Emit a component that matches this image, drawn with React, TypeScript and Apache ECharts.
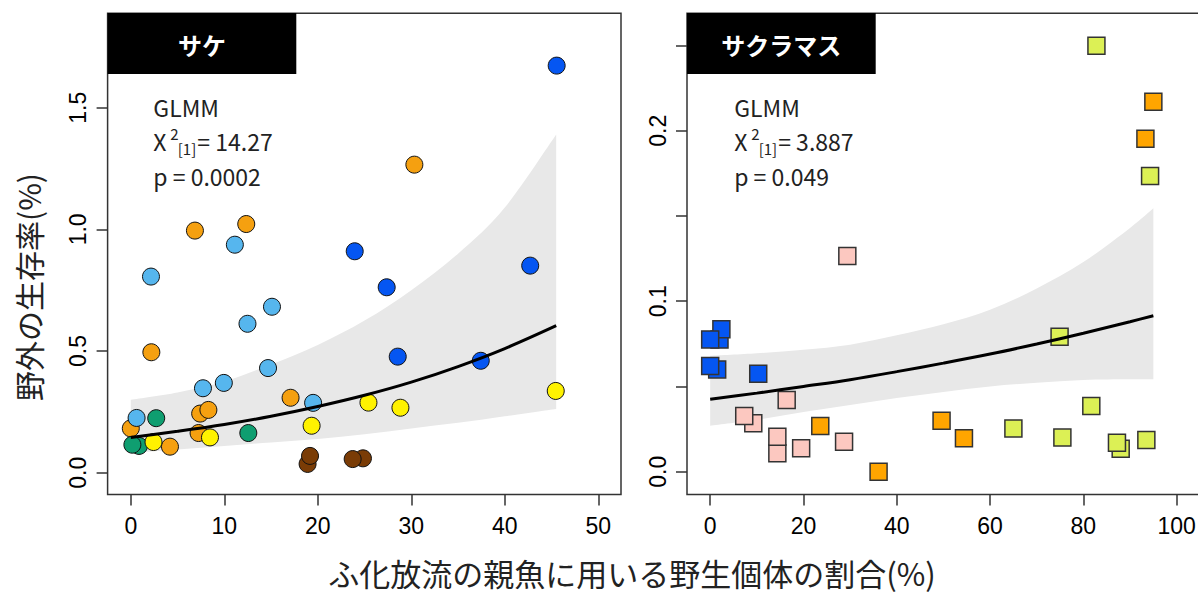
import React, { useEffect, useRef } from "react";
import * as echarts from "echarts";

// ---------- data ----------
// サケ (chum salmon) panel: [x = wild parent %, y = survival %]
const chumBrown = [[24.83, 0.059], [23.73, 0.056], [18.91, 0.036], [19.17, 0.069]];
const chumOrange = [[30.33, 1.266], [6.86, 0.995], [12.35, 1.022], [2.2, 0.495], [17.09, 0.308], [7.42, 0.243], [8.3, 0.258], [0.0, 0.182], [7.25, 0.163], [4.19, 0.107]];
const chumGreen = [[2.72, 0.224], [12.57, 0.163], [0.88, 0.11], [0.17, 0.115]];
const chumSky = [[11.13, 0.937], [2.16, 0.806], [15.1, 0.682], [12.48, 0.612], [14.68, 0.43], [9.95, 0.369], [7.72, 0.347], [19.5, 0.287], [0.62, 0.225]];
const chumYellow = [[45.45, 0.336], [25.42, 0.288], [28.84, 0.267], [19.34, 0.193], [8.47, 0.145], [2.43, 0.126]];
const chumBlue = [[45.55, 1.673], [23.95, 0.91], [27.37, 0.762], [42.72, 0.851], [28.55, 0.477], [37.43, 0.46]];

const chumFitX = [0, 5, 10, 15, 20, 25, 30, 35, 40, 45.5];
const chumFit = [0.145, 0.17, 0.198, 0.232, 0.272, 0.318, 0.372, 0.436, 0.51, 0.604];
const chumUpper = [0.3, 0.33, 0.375, 0.445, 0.525, 0.625, 0.75, 0.9, 1.09, 1.39];
const chumLower = [0.08, 0.095, 0.11, 0.124, 0.138, 0.158, 0.182, 0.205, 0.232, 0.262];

// サクラマス (masu salmon) panel
const masuPink = [[29.4, 0.1265], [16.4, 0.042], [9.24, 0.0284], [7.3, 0.0327], [14.4, 0.0108], [14.4, 0.0205], [19.5, 0.0137], [28.7, 0.0176]];
const masuOrange = [[95.0, 0.217], [93.3, 0.1953], [23.6, 0.0268], [36.1, 0.0], [49.6, 0.0299], [54.4, 0.0196]];
const masuLime = [[82.8, 0.2499], [94.3, 0.1734], [74.9, 0.0792], [65.0, 0.0254], [81.7, 0.0385], [75.5, 0.02], [88.0, 0.0135], [87.2, 0.017], [93.5, 0.0186]];
const masuBlue = [[2.0, 0.0775], [2.4, 0.0835], [0.0, 0.0776], [1.5, 0.06], [0.0, 0.062], [10.3, 0.0574]];

const masuFitX = [0, 10, 20, 30, 40, 50, 60, 70, 80, 90, 95];
const masuFit = [0.0425, 0.0461, 0.05, 0.054, 0.0587, 0.0637, 0.069, 0.0749, 0.0812, 0.088, 0.0915];
const masuUpper = [0.068, 0.0695, 0.0715, 0.0745, 0.08, 0.0865, 0.095, 0.1075, 0.123, 0.143, 0.1545];
const masuLower = [0.027, 0.0305, 0.035, 0.0391, 0.0432, 0.0468, 0.05, 0.0522, 0.0538, 0.0542, 0.0542];

// ticks / labels
const chumXTicks = [0, 10, 20, 30, 40, 50];
const chumYTicks = [0, 0.5, 1.0, 1.5];
const masuXTicks = [0, 20, 40, 60, 80, 100];
const masuYTicks = [0, 0.05, 0.1, 0.15, 0.2, 0.25];
const masuYLabels = [0, 0.1, 0.2];

const panelTitles = ["サケ", "サクラマス"];
const chiValues = ["14.27", "3.887"];
const pValues = ["0.0002", "0.049"];
const xTitle = "ふ化放流の親魚に用いる野生個体の割合(%)";
const yTitle = "野外の生存率(%)";

// ---------- styling ----------
const CJK = '"Noto Sans CJK JP", "Noto Sans", sans-serif';
const SANS = '"Liberation Sans", Arial, sans-serif';
const BAND = "#e8e8e8";

const zip = (xs: number[], ys: number[]) => xs.map((x, i) => [x, ys[i]]);

// Catmull-Rom -> cubic Bezier segments through screen points (drawing only)
function curveThrough(pts: number[][], start: "M" | "L") {
  let d = `${start}${pts[0][0]},${pts[0][1]}`;
  for (let i = 0; i < pts.length - 1; i++) {
    const p0 = pts[i - 1] || pts[i];
    const p1 = pts[i];
    const p2 = pts[i + 1];
    const p3 = pts[i + 2] || pts[i + 1];
    const c1x = p1[0] + (p2[0] - p0[0]) / 6;
    const c1y = p1[1] + (p2[1] - p0[1]) / 6;
    const c2x = p2[0] - (p3[0] - p1[0]) / 6;
    const c2y = p2[1] - (p3[1] - p1[1]) / 6;
    d += `C${c1x},${c1y},${c2x},${c2y},${p2[0]},${p2[1]}`;
  }
  return d;
}

function bandSeries(idx: number, xs: number[], lo: number[], hi: number[], fit: number[]) {
  return [
    {
      type: "custom", xAxisIndex: idx, yAxisIndex: idx, silent: true, z: 1, clip: true,
      data: [[xs[0], lo[0]]],
      renderItem: (_p: any, api: any) => {
        const up = xs.map((x, i) => api.coord([x, hi[i]]));
        const dn = xs.map((x, i) => api.coord([x, lo[i]])).reverse();
        const d = curveThrough(up, "M") + curveThrough(dn, "L") + "Z";
        return { type: "path", shape: { pathData: d }, style: { fill: BAND, stroke: null } };
      },
    },
    {
      type: "line", xAxisIndex: idx, yAxisIndex: idx, smooth: 0.35, symbol: "none",
      lineStyle: { width: 3, color: "#000" }, silent: true, z: 4,
      data: zip(xs, fit),
    },
  ];
}

function scatter(idx: number, data: number[][], color: string, symbol: string) {
  return {
    type: "scatter", xAxisIndex: idx, yAxisIndex: idx, symbol, symbolSize: 17,
    itemStyle: { color, borderColor: symbol === "circle" ? "#111" : "#333", borderWidth: symbol === "circle" ? 1 : 1.5, opacity: 1 },
    z: 3, data,
  };
}

function annotation(x0: number, chi: string, p: string) {
  const font = `23px ${CJK}`;
  const small = `15px ${CJK}`;
  const base = { fill: "#222", verticalAlign: "middle", textVerticalAlign: "middle", align: "left", textAlign: "left" };
  return [
    { type: "text", x: x0, y: 107, z: 10, style: { ...base, text: "GLMM", font } },
    { type: "text", x: x0, y: 141, z: 10, style: { ...base, text: "Χ", font } },
    { type: "text", x: x0 + 17, y: 133, z: 10, style: { ...base, text: "2", font: small } },
    { type: "text", x: x0 + 24.5, y: 148, z: 10, style: { ...base, text: "[1]", font: small } },
    { type: "text", x: x0 + 44, y: 141, z: 10, style: { ...base, text: "= " + chi, font } },
    { type: "text", x: x0, y: 176, z: 10, style: { ...base, text: "p = " + p, font } },
  ];
}

function header(x: number, w: number, text: string) {
  return [
    { type: "rect", z: 10, shape: { x, y: 13, width: w, height: 61 }, style: { fill: "#000" } },
    {
      type: "text", z: 11, x: x + w / 2, y: 44,
      style: { text, font: `bold 24px ${CJK}`, fill: "#fff", align: "center", textAlign: "center", verticalAlign: "middle", textVerticalAlign: "middle" },
    },
  ];
}

const tickStyle = { show: true, inside: false, length: 11, lineStyle: { color: "#333", width: 1.5 } };

function axisCommon() {
  return {
    type: "value",
    splitLine: { show: false },
    axisLine: { show: false, onZero: false },
  };
}

export default function App() {
  const ref = useRef<HTMLDivElement>(null);

  useEffect(() => {
    if (!ref.current) return;
    const chart = echarts.init(ref.current, undefined, { renderer: "svg" });
    const gridTop = 13.3;
    const gridH = 481.2;

    const option: any = {
      animation: false,
      backgroundColor: "#fff",
      grid: [
        { left: 107.6, top: gridTop, width: 513.4, height: gridH, show: true, borderColor: "#333", borderWidth: 1.5, backgroundColor: "transparent", outerBoundsMode: "none", containLabel: false },
        { left: 687, top: gridTop, width: 522, height: gridH, show: true, borderColor: "#333", borderWidth: 1.5, backgroundColor: "transparent", outerBoundsMode: "none", containLabel: false },
      ],
      xAxis: [
        {
          ...axisCommon(), gridIndex: 0, min: -2.48, max: 52.43,
          axisTick: { ...tickStyle, customValues: chumXTicks },
          axisLabel: { customValues: chumXTicks, margin: 20, fontSize: 23, fontFamily: SANS, color: "#000" },
        },
        {
          ...axisCommon(), gridIndex: 1, min: -4.97, max: 106.93,
          axisTick: { ...tickStyle, customValues: masuXTicks },
          axisLabel: { customValues: masuXTicks, margin: 20, fontSize: 23, fontFamily: SANS, color: "#000" },
        },
      ],
      yAxis: [
        {
          ...axisCommon(), gridIndex: 0, min: -0.0896, max: 1.888,
          axisTick: { ...tickStyle, customValues: chumYTicks },
          axisLabel: { customValues: chumYTicks, rotate: 90, margin: 18, fontSize: 23, fontFamily: SANS, color: "#000", formatter: (v: number) => v.toFixed(1) },
        },
        {
          ...axisCommon(), gridIndex: 1, min: -0.01337, max: 0.2689,
          axisTick: { ...tickStyle, customValues: masuYTicks },
          axisLabel: { customValues: masuYLabels, rotate: 90, margin: 18, fontSize: 23, fontFamily: SANS, color: "#000", formatter: (v: number) => v.toFixed(1) },
        },
      ],
      series: [
        ...bandSeries(0, chumFitX, chumLower, chumUpper, chumFit),
        scatter(0, chumBrown, "#7a3c06", "circle"),
        scatter(0, chumOrange, "#f5a010", "circle"),
        scatter(0, chumGreen, "#0f9e70", "circle"),
        scatter(0, chumSky, "#56b6ee", "circle"),
        scatter(0, chumYellow, "#fff200", "circle"),
        scatter(0, chumBlue, "#0556f2", "circle"),
        ...bandSeries(1, masuFitX, masuLower, masuUpper, masuFit),
        scatter(1, masuPink, "#fcc8c0", "rect"),
        scatter(1, masuOrange, "#ffa500", "rect"),
        scatter(1, masuLime, "#dcf055", "rect"),
        scatter(1, masuBlue, "#0556f2", "rect"),
      ],
      graphic: [
        ...header(107.6, 188.7, panelTitles[0]),
        ...header(687, 188.7, panelTitles[1]),
        ...annotation(153.3, chiValues[0], pValues[0]),
        ...annotation(734.2, chiValues[1], pValues[1]),
        {
          type: "text", x: 632, y: 572, z: 10,
          style: { text: xTitle, font: `31px ${CJK}`, fill: "#222", align: "center", textAlign: "center", verticalAlign: "middle", textVerticalAlign: "middle" },
        },
        {
          type: "text", x: 28, y: 287, rotation: Math.PI / 2, z: 10,
          style: { text: yTitle, font: `30px ${CJK}`, fill: "#222", align: "center", textAlign: "center", verticalAlign: "middle", textVerticalAlign: "middle" },
        },
      ],
    };
    chart.setOption(option);
    return () => chart.dispose();
  }, []);

  return <div ref={ref} style={{ position: "fixed", left: 0, top: 0, width: 1198, height: 595, background: "#fff" }} />;
}
